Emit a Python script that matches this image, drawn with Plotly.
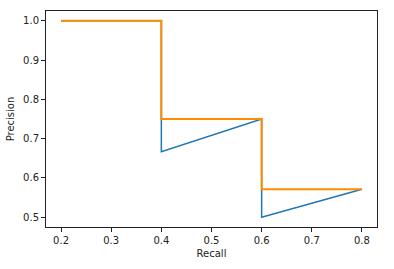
import plotly.graph_objects as go

recall = [0.2, 0.4, 0.4, 0.6, 0.6, 0.8]
precision = [1.0, 1.0, 0.667, 0.75, 0.5, 0.571]
interp_precision = [1.0, 1.0, 0.75, 0.75, 0.571, 0.571]
x_ticks = [0.2, 0.3, 0.4, 0.5, 0.6, 0.7, 0.8]
y_ticks = [0.5, 0.6, 0.7, 0.8, 0.9, 1.0]

fig = go.Figure()
fig.add_trace(go.Scatter(x=recall, y=precision, mode="lines",
                         line=dict(color="#1f77b4", width=1.5), showlegend=False))
fig.add_trace(go.Scatter(x=recall, y=interp_precision, mode="lines",
                         line=dict(color="#ff8c00", width=2), showlegend=False))

axis_common = dict(showgrid=False, zeroline=False, showline=True, mirror=True,
                   linecolor="#222222", linewidth=1, ticks="outside", ticklen=4,
                   tickcolor="#222222", tickwidth=1,
                   tickfont=dict(family="DejaVu Sans", size=10, color="#222222"))

fig.update_layout(
    width=394, height=269,
    margin=dict(l=42, r=17, t=10, b=42),
    paper_bgcolor="white", plot_bgcolor="white",
    font=dict(family="DejaVu Sans", size=10, color="#222222"),
    xaxis=dict(range=[0.17, 0.83], tickvals=x_ticks, tickformat=".1f",
               title=dict(text="Recall", standoff=4, font=dict(size=10)), **axis_common),
    yaxis=dict(range=[0.475, 1.025], tickvals=y_ticks, tickformat=".1f",
               title=dict(text="Precision", standoff=6, font=dict(size=10)), **axis_common),
)

fig.write_html("out.html")
